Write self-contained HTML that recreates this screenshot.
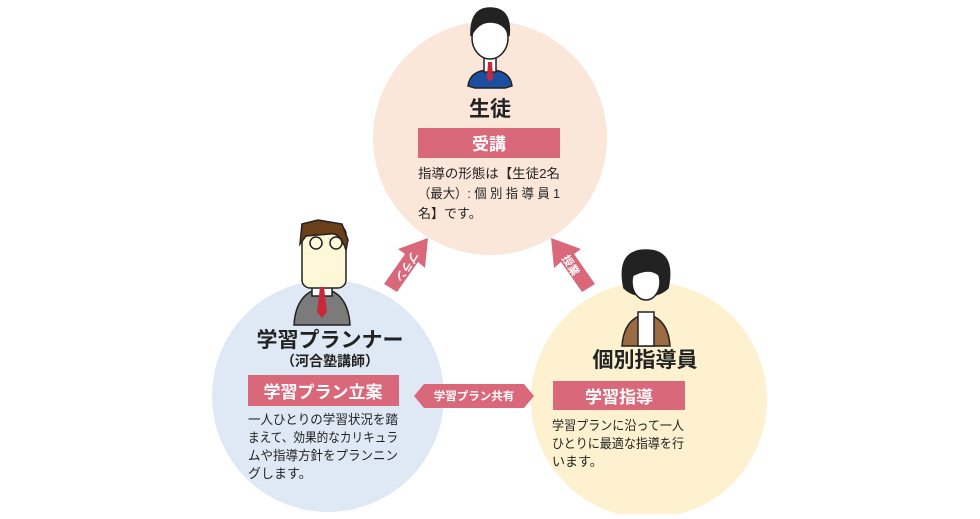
<!DOCTYPE html>
<html><head><meta charset="utf-8"><style>
body{margin:0;background:#fff;}
svg text{font-family:"Liberation Sans","Noto Sans CJK JP",sans-serif;}
</style></head><body>
<svg width="980" height="514" viewBox="0 0 980 514" xmlns="http://www.w3.org/2000/svg">
<circle cx="490" cy="138" r="117" fill="#fbe6da"/>
<circle cx="328" cy="396" r="116" fill="#dfe9f5"/>
<circle cx="649" cy="400" r="118" fill="#fdf1cf"/>
<g fill="#d9687a">
<polygon points="384,284 405,254 398,249 428,238 425,268 418,262 397,292"/>
<polygon points="595,284 574,254 581,249 551,238 554,268 561,262 582,292"/>
<polygon points="414,396 424,384 524,384 534,396 524,408 424,408"/>
</g>
<text x="0" y="0" font-size="11" fill="#fff" font-weight="bold" transform="translate(406,266) rotate(122)" text-anchor="middle" dominant-baseline="middle">プラン</text>
<text x="0" y="0" font-size="11" fill="#fff" font-weight="bold" transform="translate(570,266) rotate(58)" text-anchor="middle" dominant-baseline="middle">授業</text>
<text x="474" y="400" font-size="11.5" fill="#fff" font-weight="bold" text-anchor="middle">学習プラン共有</text>
<g stroke="#222" stroke-width="1.5">
<path d="M468,86 Q470,70 490,70 Q510,70 512,86 L505,88 L475,88 Z" fill="#1d4fa0"/>
<rect x="484" y="56" width="12" height="16" fill="#fff"/>
<ellipse cx="490" cy="38" rx="18" ry="21" fill="#fff"/>
<path d="M471,36 Q470,8 490,8 Q512,8 509,36 Q505,22 490,22 Q478,22 471,36Z" fill="#222"/>
</g>
<path d="M488,62 L492,62 L493,78 L490,82 L487,78Z" fill="#c8283a"/>
<text x="490" y="116" font-size="21" font-weight="bold" fill="#222" text-anchor="middle">生徒</text>
<rect x="418" y="128" width="142" height="30" fill="#d9687a"/>
<text x="489" y="150" font-size="17" font-weight="bold" fill="#fff" text-anchor="middle">受講</text>
<g font-size="13" fill="#222">
<text x="418" y="178" textLength="142" lengthAdjust="spacingAndGlyphs">指導の形態は【生徒2名</text>
<text x="418" y="198" textLength="142" lengthAdjust="spacingAndGlyphs">（最大）: 個 別 指 導 員 1</text>
<text x="418" y="218">名】です。</text>
</g>
<g stroke="#222" stroke-width="1.5">
<path d="M294,325 Q296,292 322,288 Q348,292 350,325 Z" fill="#7b7b7b"/>
<rect x="312" y="282" width="20" height="14" fill="#fff"/>
<rect x="302" y="226" width="44" height="62" rx="8" fill="#fff8d8"/>
<path d="M300,244 L302,224 L318,220 L342,224 L348,240 L346,250 Q340,232 330,234 L306,236Z" fill="#6b3f1a"/>
<circle cx="316" cy="243" r="6" fill="none"/><circle cx="336" cy="243" r="6" fill="none"/>
</g>
<path d="M320,287 L324,287 L327,312 L322,318 L317,312Z" fill="#c8283a"/>
<text x="330" y="347" font-size="21" font-weight="bold" fill="#222" text-anchor="middle">学習プランナー</text>
<text x="330" y="366" font-size="14" font-weight="bold" fill="#222" text-anchor="middle">（河合塾講師）</text>
<rect x="248" y="375" width="151" height="31" fill="#d9687a"/>
<text x="323" y="398" font-size="17" font-weight="bold" fill="#fff" text-anchor="middle">学習プラン立案</text>
<g font-size="13" fill="#222">
<text x="248" y="424" textLength="150" lengthAdjust="spacingAndGlyphs">一人ひとりの学習状況を踏</text>
<text x="248" y="442" textLength="150" lengthAdjust="spacingAndGlyphs">まえて、効果的なカリキュラ</text>
<text x="248" y="460" textLength="150" lengthAdjust="spacingAndGlyphs">ムや指導方針をプランニン</text>
<text x="248" y="478">グします。</text>
</g>
<g stroke="#222" stroke-width="1.5">
<path d="M622,346 Q624,318 646,314 Q668,318 670,346 Z" fill="#9b6b42"/>
<rect x="638" y="312" width="16" height="34" fill="#fff"/>
<path d="M624,288 Q616,250 646,250 Q676,250 668,288 Q660,296 646,296 Q632,296 624,288Z" fill="#222"/>
<ellipse cx="646" cy="282" rx="14" ry="18" fill="#fff"/>
<path d="M632,276 Q634,262 646,262 Q658,262 660,276 Q650,266 632,276Z" fill="#222"/>
</g>
<text x="645" y="367" font-size="21" font-weight="bold" fill="#222" text-anchor="middle">個別指導員</text>
<rect x="553" y="381" width="132" height="29" fill="#d9687a"/>
<text x="619" y="403" font-size="17" font-weight="bold" fill="#fff" text-anchor="middle">学習指導</text>
<g font-size="13" fill="#222">
<text x="552" y="430" textLength="132" lengthAdjust="spacingAndGlyphs">学習プランに沿って一人</text>
<text x="552" y="448" textLength="132" lengthAdjust="spacingAndGlyphs">ひとりに最適な指導を行</text>
<text x="552" y="466">います。</text>
</g>
</svg>
</body></html>
